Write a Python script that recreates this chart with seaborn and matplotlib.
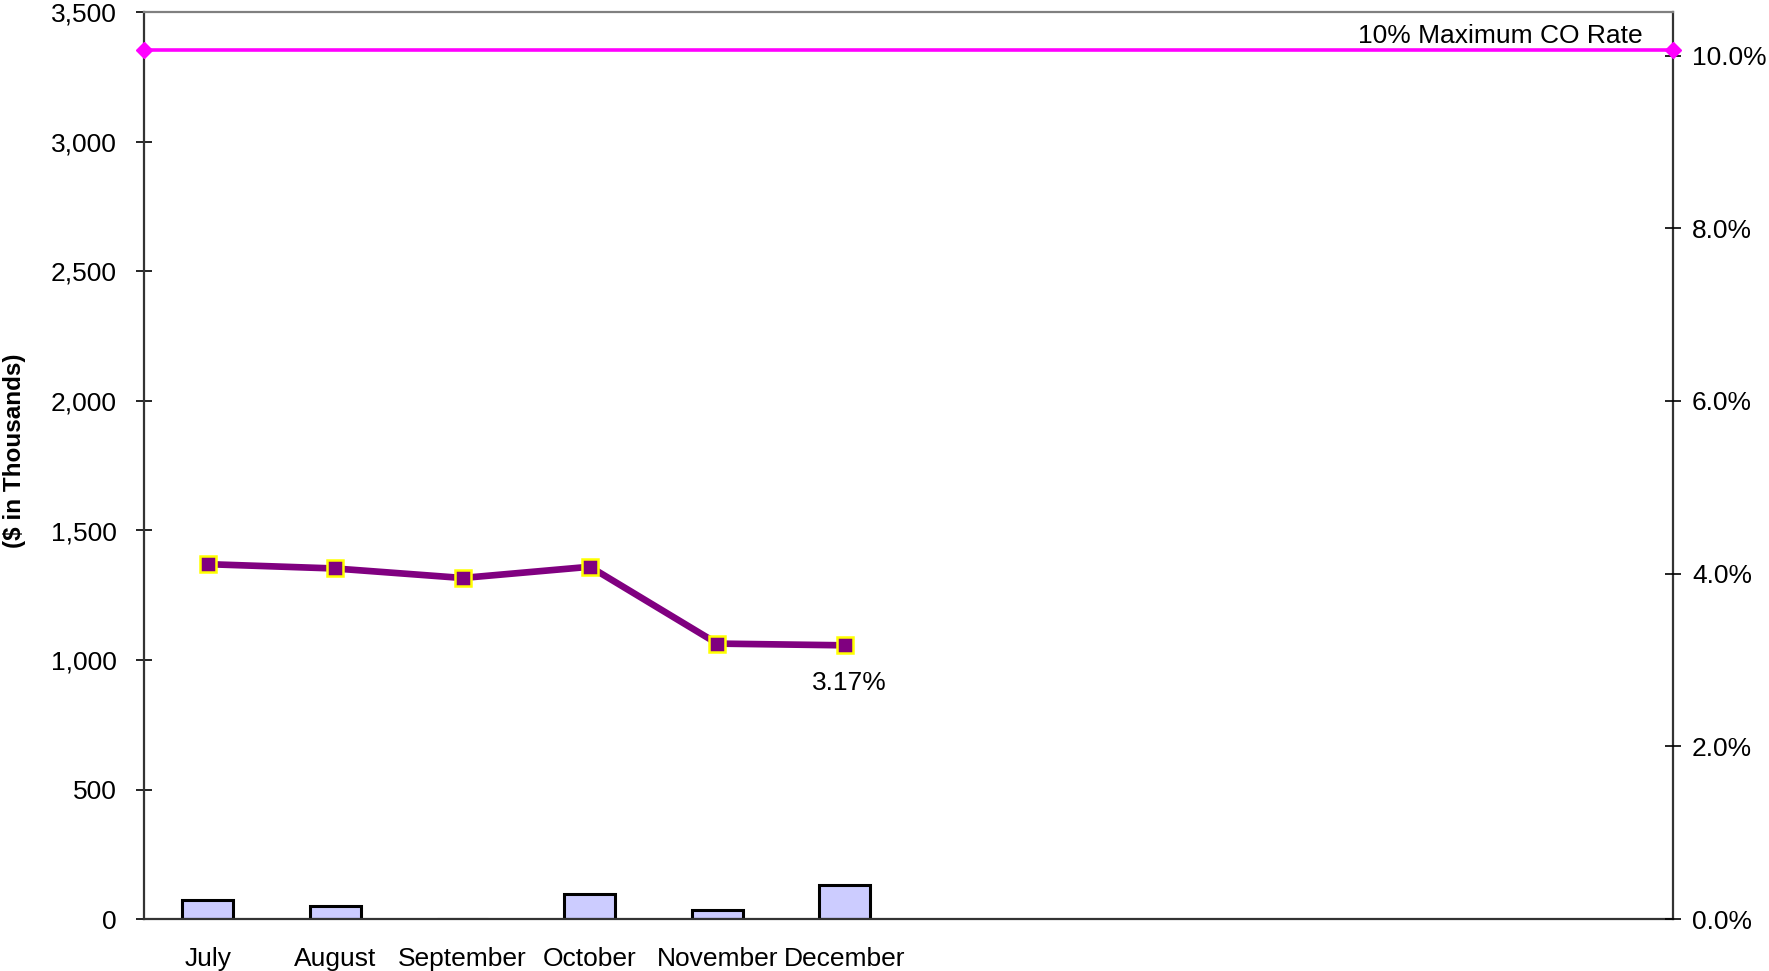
import numpy as np
import pandas as pd
import seaborn as sns
import matplotlib.pyplot as plt
import matplotlib.ticker as mticker

sns.set_style("white")
plt.rcParams['font.family'] = ['Liberation Sans', 'DejaVu Sans']
plt.rcParams['text.color'] = 'black'
plt.rcParams['axes.labelcolor'] = 'black'
plt.rcParams['xtick.color'] = 'black'
plt.rcParams['ytick.color'] = 'black'

# fiscal year months, only the first half has data
months = ["July", "August", "September", "October", "November", "December",
          "January", "February", "March", "April", "May", "June"]
reported = months[:6]
charge_offs = [72, 49, 0, 96, 33, 131]          # $ in thousands
co_rate = [4.11, 4.06, 3.95, 4.08, 3.19, 3.17]  # percent
max_rate = 10.07
last_label = "3.17%"

fs = 19

fig = plt.figure(figsize=(17.69, 9.71), dpi=100)
ax = fig.add_axes([144 / 1769, 1 - 919 / 971, (1673 - 144) / 1769, (919 - 12.5) / 971])

bars = pd.DataFrame({"month": reported, "amount": charge_offs})
sns.barplot(data=bars, x="month", y="amount", order=months, ax=ax,
            color="#CCCCFF", width=0.4, edgecolor="black", linewidth=2.2,
            saturation=1)

ax.set_ylim(0, 3500)
ax.set_yticks(np.arange(0, 3501, 500))
ax.yaxis.set_major_formatter(mticker.FuncFormatter(lambda v, p: f"{v:,.0f}"))
ax.set_xlim(-0.5, len(months) - 0.5)
ax.set_xticks(range(len(months)))
ax.set_xticklabels(reported + [""] * 6)
ax.set_xticks(np.arange(-0.5, len(months)), minor=True)
ax.tick_params(axis="x", which="major", length=0, pad=20, labelsize=fs)
ax.tick_params(axis="x", which="minor", length=11.5, direction="inout", width=1.2)
ax.tick_params(axis="y", length=11.5, direction="inout", width=1.2, pad=14,
               labelsize=fs, left=True)
ax.set_xlabel("")
ax.set_ylabel("($ in Thousands)", fontsize=17.5, fontweight="bold")
ax.yaxis.set_label_coords(-0.077, 0.516)

for side in ["left", "bottom", "right"]:
    ax.spines[side].set_color("#333333")
    ax.spines[side].set_linewidth(1.6)
ax.spines["top"].set_color("#808080")
ax.spines["top"].set_linewidth(1.6)

ax2 = ax.twinx()
rates = pd.DataFrame({"month": reported, "rate": co_rate})
sns.pointplot(data=rates, x="month", y="rate", order=months, ax=ax2,
              color="#800080", markers="s", linewidth=4.8,
              markersize=11.5, markeredgecolor="yellow", markeredgewidth=1.8)
ax2.axhline(max_rate, color="#FF00FF", linewidth=2.6, marker="D",
            markersize=8.5, clip_on=False, zorder=5)
ax2.annotate("10% Maximum CO Rate", xy=(0.98, max_rate),
             xycoords=("axes fraction", "data"), xytext=(0, 1),
             textcoords="offset points", ha="right", va="bottom", fontsize=fs)
ax2.annotate(last_label, xy=(len(reported) - 1, co_rate[-1]),
             xytext=(3, -27), textcoords="offset points",
             ha="center", va="center", fontsize=fs)

ax2.set_ylim(0, 10.5)
ax2.set_yticks(np.arange(0, 10.1, 2))
ax2.yaxis.set_major_formatter(mticker.FuncFormatter(lambda v, p: f"{v:.1f}%"))
ax2.tick_params(axis="y", length=11.5, direction="inout", width=1.2, pad=8,
                labelsize=fs, right=True)
ax2.set_ylabel("")
ax2.set_xlabel("")
ax2.set_xlim(-0.5, len(months) - 0.5)
for s in ax2.spines.values():
    s.set_visible(False)

fig.savefig("out.png", dpi=100)
